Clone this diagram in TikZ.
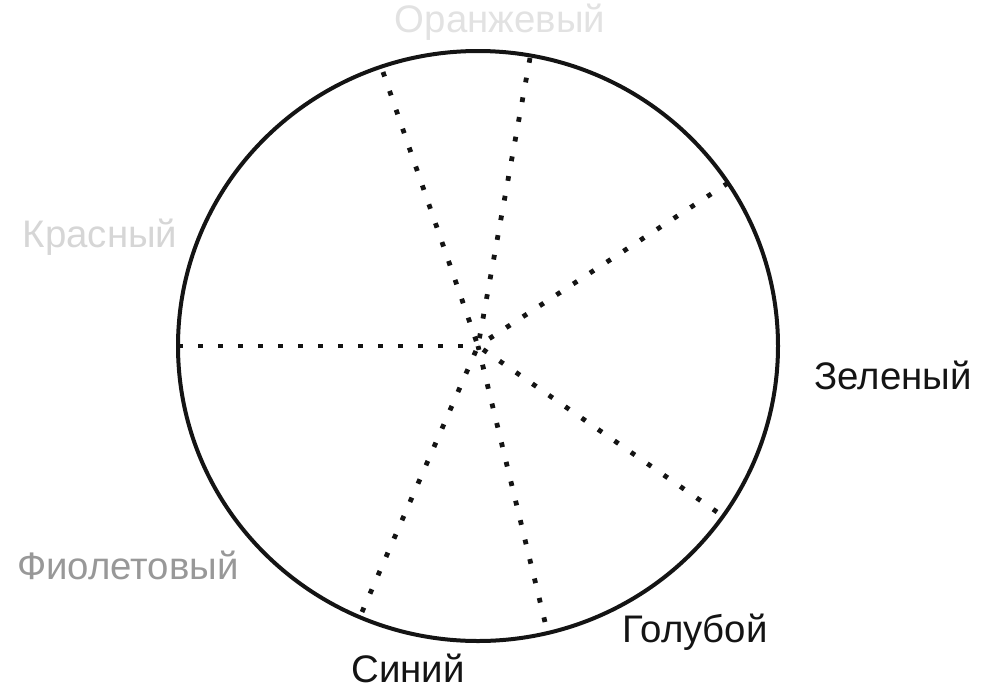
\documentclass[tikz,border=0pt]{standalone}
\usepackage{fontspec}
\setmainfont{Liberation Sans}
\usepackage{xcolor}
\usetikzlibrary{calc}

\definecolor{palegray}{HTML}{E2E2E2}
\definecolor{lightgray}{HTML}{D6D6D6}
\definecolor{midgray}{HTML}{989898}
\definecolor{ink}{HTML}{141414}

\begin{document}
\begin{tikzpicture}[
    x=0.75pt, y=-0.75pt,
    rim/.style={
        draw=ink,
        line width=3pt
    },
    spoke/.style={
        draw=ink,
        line width=3.6pt,
        dash pattern=on 3.6pt off 11.4pt
    },
    colour/.style={
        font=\fontsize{28.8}{34}\selectfont,
        inner sep=0pt
    }
]
\useasboundingbox (0,0) rectangle (993,690);

% ------------------------------------------------------------
% Wheel
% ------------------------------------------------------------

\coordinate (hub) at (478,346);
\draw[rim] (hub) ellipse [x radius=300, y radius=295];

\coordinate (orange) at ($(hub)+(-95,-274)$);
\coordinate (yellow) at ($(hub)+(52,-288)$);
\coordinate (green)  at ($(hub)+(250,-163)$);
\coordinate (red)    at ($(hub)+(-300,0)$);
\coordinate (cyan)   at ($(hub)+(239,166)$);
\coordinate (blue)   at ($(hub)+(67,276)$);
\coordinate (violet) at ($(hub)+(-116,266)$);

% ------------------------------------------------------------
% Spokes
% ------------------------------------------------------------

\foreach \tip in {orange,yellow,green,red,cyan,blue,violet}
    \draw[spoke] (\tip) -- (hub);

% ------------------------------------------------------------
% Labels
% ------------------------------------------------------------

\node[colour, text=palegray] (lorange) at (500,22)  {Оранжевый};
\node[colour, text=lightgray] (lred)   at (100,237) {Красный};
\node[colour, text=ink] (lgreen)       at (893,375) {Зеленый};
\node[colour, text=midgray] (lviolet)  at (128,565) {Фиолетовый};
\node[colour, text=ink] (lcyan)        at (695,632) {Голубой};
\node[colour, text=ink] (lblue)        at (408,668) {Синий};

\end{tikzpicture}
\end{document}
